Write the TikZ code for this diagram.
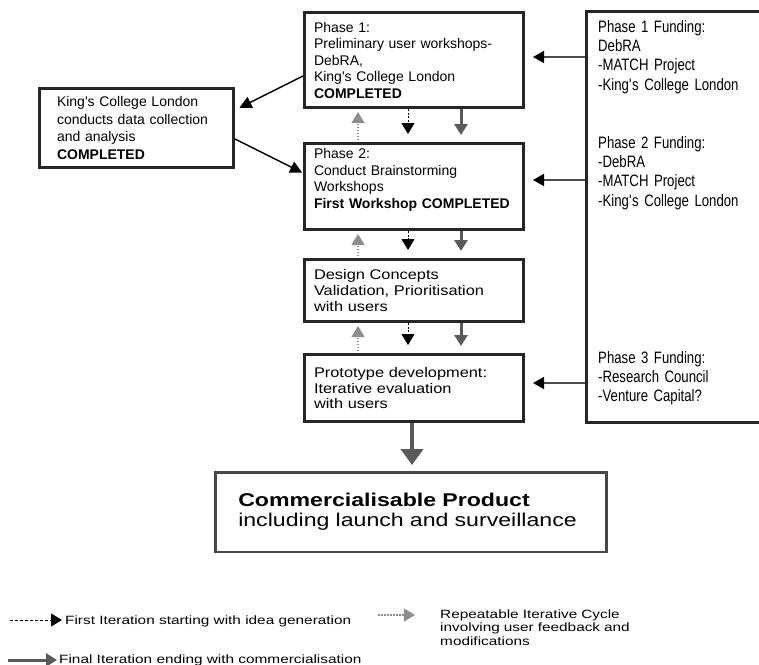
\documentclass[tikz,border=0pt]{standalone}
\usepackage{fontspec}
\setmainfont{Liberation Sans}
\newfontfamily\widefont[FakeStretch=1.17]{Liberation Sans}
\newfontfamily\narrowfont[FakeStretch=0.8]{Liberation Sans}
\newfontfamily\prodfont[FakeStretch=1.25]{Liberation Sans}
\newfontfamily\keyfont[FakeStretch=1.28]{Liberation Sans}
\usetikzlibrary{arrows.meta}

\definecolor{boxline}{HTML}{262626}
\definecolor{fulldown}{HTML}{5A5A5A}
\definecolor{cycleup}{HTML}{8E8E8E}
\definecolor{fundline}{HTML}{4D4D4D}

\tikzset{
	phasebox/.style={draw=boxline, line width=3pt, anchor=north west, align=left, text width=200pt, inner xsep=9.5pt, inner ysep=0pt, minimum width=219pt, font=\fontsize{14}{16.5}\selectfont},
	widebox/.style={phasebox, font=\widefont\fontsize{14}{15.7}\selectfont},
	kclbox/.style={phasebox, text width=159pt, inner xsep=17.5pt, minimum width=194pt, font=\fontsize{14}{17.7}\selectfont},
	prodbox/.style={draw=boxline!85, line width=2.5pt, anchor=north west, align=left, text width=345pt, inner xsep=23pt, inner ysep=0pt, minimum height=79.5pt, font=\prodfont\fontsize{18.5}{20}\selectfont},
	fundtext/.style={anchor=base west, inner sep=0pt, align=left, text width=160pt, font=\narrowfont\fontsize{16.5}{19.4}\selectfont},
	keytext/.style={anchor=base west, inner sep=0pt, font=\keyfont\fontsize{12}{13.5}\selectfont},
	firstiter/.style={black, line width=1pt, dash pattern=on 2pt off 1.5pt, -{Triangle[width=13pt,length=11pt]}, shorten >=8pt},
	fulliter/.style={fulldown, line width=3pt, -{Triangle[width=13pt,length=11pt]}, shorten >=7pt},
	cycleiter/.style={cycleup, line width=1.2pt, dash pattern=on 1.5pt off 1.5pt, -{Triangle[width=13pt,length=11pt]}, shorten >=3pt, shorten <=2pt},
	fundarrow/.style={fundline, line width=1.5pt, -{Triangle[width=12pt,length=11pt,color=black]}, shorten >=8pt},
	kclarrow/.style={black, line width=1.5pt, -{Triangle[width=12pt,length=12pt]}},
}

\begin{document}
\begin{tikzpicture}[x=1pt, y=-1pt]
	\useasboundingbox (0,0) rectangle (759,664);
	\clip (0,0) rectangle (759,664);

	\node[phasebox, minimum height=95pt] (ph1) at (303,11) {Phase 1:\\Preliminary user workshops-\\DebRA,\\King\textquotesingle s College London\\\textbf{COMPLETED}};
	\node[phasebox, minimum height=86pt] (ph2) at (303,142) {Phase 2:\\Conduct Brainstorming\\Workshops\\\textbf{First Workshop COMPLETED}\\\mbox{}};
	\node[widebox, minimum height=62pt] (des) at (303,258) {Design Concepts\\Validation, Prioritisation\\with users};
	\node[widebox, minimum height=67pt] (pro) at (303,353) {Prototype development:\\Iterative evaluation\\with users};
	\node[kclbox, minimum height=79pt] (kcl) at (38,87) {King\textquotesingle s College London\\conducts data collection\\and analysis\\\textbf{COMPLETED}};
	\node[prodbox] (com) at (214,471) {\textbf{Commercialisable Product}\\including launch and surveillance};

	\node[draw=boxline, line width=3pt, anchor=north west, minimum width=220pt, minimum height=411pt] (fund) at (585,10) {};
	\node[fundtext] (f1) at (598,32) {Phase 1 Funding:\\DebRA\\-MATCH Project\\-King\textquotesingle s College London};
	\node[fundtext] (f2) at (598,148) {Phase 2 Funding:\\-DebRA\\-MATCH Project\\-King\textquotesingle s College London};
	\node[fundtext] (f3) at (598,363) {Phase 3 Funding:\\-Research Council\\-Venture Capital?};

	\draw[fundarrow] ([yshift=3pt]fund.west |- ph1.east) -- ([yshift=3pt]ph1.east);
	\draw[fundarrow] ([yshift=6.5pt]fund.west |- ph2.east) -- ([yshift=6.5pt]ph2.east);
	\draw[fundarrow] ([yshift=5pt]fund.west |- pro.east) -- ([yshift=5pt]pro.east);

	\draw[kclarrow, shorten >=5pt] ([yshift=-16pt]ph1.west) -- ([yshift=18pt]kcl.east);
	\draw[kclarrow, shorten >=1pt] ([yshift=-11pt]kcl.east) -- ([yshift=13.5pt]ph2.west);

	\draw[cycleiter] ([xshift=-56pt]ph2.north) -- ([xshift=-56pt]ph1.south);
	\draw[firstiter] ([xshift=-6pt]ph1.south) -- ([xshift=-6pt]ph2.north);
	\draw[fulliter] ([xshift=47pt]ph1.south) -- ([xshift=47pt]ph2.north);
	\draw[cycleiter] ([xshift=-56pt]des.north) -- ([xshift=-56pt]ph2.south);
	\draw[firstiter] ([xshift=-6pt]ph2.south) -- ([xshift=-6pt]des.north);
	\draw[fulliter] ([xshift=47pt]ph2.south) -- ([xshift=47pt]des.north);
	\draw[cycleiter] ([xshift=-56pt]pro.north) -- ([xshift=-56pt]des.south);
	\draw[firstiter] ([xshift=-6pt]des.south) -- ([xshift=-6pt]pro.north);
	\draw[fulliter] ([xshift=47pt]des.south) -- ([xshift=47pt]pro.north);

	\draw[fulldown, line width=4pt, -{Triangle[width=22pt,length=16pt]}, shorten >=6pt] ([xshift=-2pt]pro.south) -- ([xshift=-2pt]pro.south |- com.north);

	\coordinate (k1s) at (10,620);
	\coordinate (k1e) at (62,620);
	\coordinate (k2s) at (378,615);
	\coordinate (k2e) at (415,615);
	\coordinate (k3s) at (8,660);
	\coordinate (k3e) at (57,660);
	\draw[firstiter, shorten >=0pt, dash pattern=on 3pt off 2pt] (k1s) -- (k1e);
	\draw[cycleiter, shorten >=0pt, shorten <=0pt] (k2s) -- (k2e);
	\draw[fulliter, shorten >=0pt] (k3s) -- (k3e);
	\node[keytext] (k1) at (65,624) {First Iteration starting with idea generation};
	\node[keytext, align=left, text width=250pt] (k2) at (440,618) {Repeatable Iterative Cycle\\involving user feedback and\\modifications};
	\node[keytext] (k3) at (59,663) {Final Iteration ending with commercialisation};
\end{tikzpicture}
\end{document}
